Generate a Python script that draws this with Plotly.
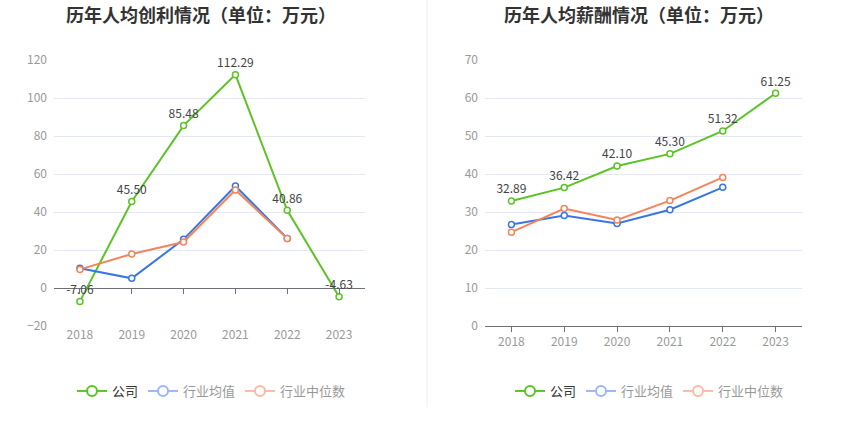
import plotly.graph_objects as go

years = ["2018", "2019", "2020", "2021", "2022", "2023"]

profit_company = [-7.06, 45.50, 85.48, 112.29, 40.86, -4.63]
profit_avg = [10.4, 5.1, 25.6, 53.7, 26.1, None]
profit_median = [9.8, 17.9, 24.2, 51.6, 26.1, None]

salary_company = [32.89, 36.42, 42.10, 45.30, 51.32, 61.25]
salary_avg = [26.7, 29.1, 27.0, 30.6, 36.5, None]
salary_median = [24.7, 30.9, 27.9, 33.0, 39.1, None]

names = ["公司", "行业均值", "行业中位数"]
colors = ["#5cc326", "#3a76e2", "#f4845a"]
legend_colors = ["#5cc326", "#9ab8f2", "#f9bca3"]
legend_text = ["#333333", "#999999", "#999999"]

FONT = "Noto Sans CJK SC, Microsoft YaHei, sans-serif"

fig = go.Figure()

def add_series(xa, ya, ys_list, labels_idx, legend_name):
    for i, ys in enumerate(ys_list):
        fig.add_trace(go.Scatter(
            x=years, y=ys, xaxis=xa, yaxis=ya,
            mode="lines+markers+text" if i == labels_idx else "lines+markers",
            text=[f"{v:.2f}" for v in ys] if i == labels_idx else None,
            textposition="top center",
            textfont=dict(size=12, color="#444444", family=FONT),
            line=dict(color=colors[i], width=2),
            marker=dict(symbol="circle", size=6, color="white",
                        line=dict(color=colors[i], width=1.5)),
            showlegend=False, cliponaxis=False, hoverinfo="x+y",
        ))
    for i in range(3):
        fig.add_trace(go.Scatter(
            x=[None], y=[None], xaxis=xa, yaxis=ya,
            mode="lines+markers",
            name=f"<span style='color:{legend_text[i]}'>{names[i]}</span>",
            line=dict(color=legend_colors[i], width=2),
            marker=dict(symbol="circle", size=10, color="white",
                        line=dict(color=legend_colors[i], width=2)),
            legend=legend_name, showlegend=True,
        ))

add_series("x", "y", [profit_company, profit_avg, profit_median], 0, "legend")
add_series("x2", "y2", [salary_company, salary_avg, salary_median], 0, "legend2")

ydom = [1 - 326 / 437, 1 - 60 / 437]
tickfont = dict(size=12, color="#999999", family=FONT)
grid = "#e3e8f2"

fig.update_layout(
    width=850, height=437,
    margin=dict(l=0, r=0, t=0, b=0, autoexpand=False),
    paper_bgcolor="white", plot_bgcolor="white",
    font=dict(family=FONT),
    xaxis=dict(domain=[54 / 850, 365 / 850], anchor="y", type="category",
               range=[-0.5, 5.5], showgrid=False, showline=False, ticks="",
               tickfont=tickfont, zeroline=False),
    yaxis=dict(domain=ydom, anchor="x", range=[-20, 120], dtick=20,
               showgrid=True, gridcolor=grid, gridwidth=1,
               zeroline=True, zerolinecolor="#6e7079", zerolinewidth=1,
               showline=False, tickfont=tickfont, ticklabelstandoff=6),
    xaxis3=dict(domain=[54 / 850, 365 / 850], anchor="free",
                position=1 - 288 / 437, overlaying="x", type="category",
                range=[-0.5, 5.5], showticklabels=False, ticks="outside",
                ticklen=5, tickcolor="#6e7079", showgrid=False,
                showline=False, tickvals=years, matches="x"),
    xaxis2=dict(domain=[485 / 850, 802 / 850], anchor="y2", type="category",
                range=[-0.5, 5.5], showgrid=False, showline=True,
                linecolor="#6e7079", linewidth=1, ticks="outside", ticklen=5,
                tickcolor="#6e7079", tickfont=tickfont, zeroline=False),
    yaxis2=dict(domain=ydom, anchor="x2", range=[0, 70], dtick=10,
                showgrid=True, gridcolor=grid, gridwidth=1, zeroline=False,
                showline=False, tickfont=tickfont, ticklabelstandoff=6),
    legend=dict(orientation="h", x=72 / 850, y=1 - 391 / 437, yanchor="middle",
                xanchor="left", font=dict(size=13, family=FONT),
                bgcolor="rgba(0,0,0,0)", itemwidth=30, tracegroupgap=0),
    legend2=dict(orientation="h", x=510 / 850, y=1 - 391 / 437, yanchor="middle",
                 xanchor="left", font=dict(size=13, family=FONT),
                 bgcolor="rgba(0,0,0,0)", itemwidth=30, tracegroupgap=0),
    annotations=[
        dict(text="<b>历年人均创利情况（单位：万元）</b>", x=201 / 850, y=1 - 14 / 437,
             xref="paper", yref="paper", showarrow=False, xanchor="center",
             yanchor="middle", font=dict(size=18, color="#333333", family=FONT)),
        dict(text="<b>历年人均薪酬情况（单位：万元）</b>", x=639 / 850, y=1 - 14 / 437,
             xref="paper", yref="paper", showarrow=False, xanchor="center",
             yanchor="middle", font=dict(size=18, color="#333333", family=FONT)),
    ],
    shapes=[dict(type="line", xref="paper", yref="paper", x0=427 / 850, x1=427 / 850,
                 y0=1 - 407 / 437, y1=1, line=dict(color="#eeeeee", width=1))],
)

# invisible trace to activate xaxis3 ticks
fig.add_trace(go.Scatter(x=years, y=[None] * 6, xaxis="x3", yaxis="y",
                         showlegend=False, hoverinfo="skip"))

fig.write_html("out.html", config={"displayModeBar": False},
               post_script="document.body.style.margin='0';document.body.style.overflow='hidden';")
